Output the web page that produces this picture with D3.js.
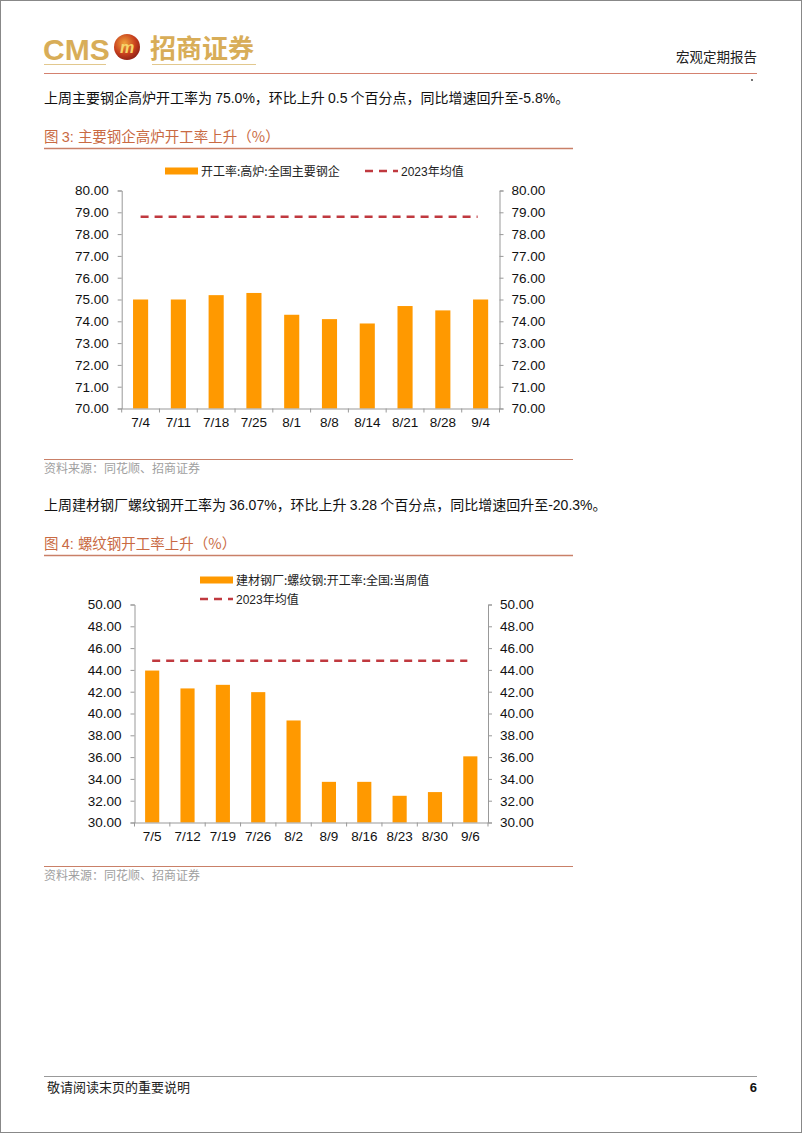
<!DOCTYPE html>
<html lang="zh">
<head>
<meta charset="utf-8">
<title>宏观定期报告</title>
<script src="https://cdn.jsdelivr.net/npm/d3@7"></script>
<style>
  body { margin: 0; background: #fff; }
  text { font-family: "Liberation Sans", Arial, "Noto Sans CJK SC", sans-serif; }
  .cn { font-family: "Noto Sans CJK SC", sans-serif; }
</style>
</head>
<body>
<script>
// chart 3 data
var dates1 = ["7/4", "7/11", "7/18", "7/25", "8/1", "8/8", "8/14", "8/21", "8/28", "9/4"];
var rate1 = [75.0, 75.0, 75.2, 75.3, 74.3, 74.1, 73.9, 74.7, 74.5, 75.0];
var avg1 = 78.8;
var ticks1 = [70, 71, 72, 73, 74, 75, 76, 77, 78, 79, 80];

// chart 4 data
var dates2 = ["7/5", "7/12", "7/19", "7/26", "8/2", "8/9", "8/16", "8/23", "8/30", "9/6"];
var rate2 = [43.94, 42.3, 42.63, 41.96, 39.36, 33.73, 33.73, 32.45, 32.79, 36.07];
var avg2 = 44.83;
var ticks2 = [30, 32, 34, 36, 38, 40, 42, 44, 46, 48, 50];

var W = 802, H = 1133;
var barColor = "#ff9900", avgColor = "#c0393f";

var svg = d3.select("body").append("svg")
    .attr("width", W).attr("height", H);

svg.append("rect").attr("x", 0.5).attr("y", 0.5).attr("width", W - 1).attr("height", H - 1)
    .attr("fill", "#fff").attr("stroke", "#888");

// header
var gold = "#d8ad58";
svg.append("text").attr("x", 43).attr("y", 60).text("CMS")
    .attr("font-size", 30).attr("font-weight", "bold").attr("fill", gold);
var grad = svg.append("defs").append("radialGradient").attr("id", "lg")
    .attr("cx", "40%").attr("cy", "35%").attr("r", "70%");
grad.append("stop").attr("offset", "0%").attr("stop-color", "#f0a23a");
grad.append("stop").attr("offset", "60%").attr("stop-color", "#c8401e");
grad.append("stop").attr("offset", "100%").attr("stop-color", "#8a1e14");
svg.append("circle").attr("cx", 127).attr("cy", 47).attr("r", 13).attr("fill", "url(#lg)");
svg.append("text").attr("x", 127).attr("y", 53).attr("text-anchor", "middle")
    .attr("font-size", 16).attr("font-weight", "bold").attr("font-style", "italic")
    .attr("fill", "#f6d56a").text("m");
svg.append("text").attr("class", "cn").attr("x", 150).attr("y", 58).text("招商证券")
    .attr("font-size", 26).attr("font-weight", "bold").attr("fill", gold);
svg.append("line").attr("x1", 44).attr("x2", 106).attr("y1", 64.5).attr("y2", 64.5)
    .attr("stroke", "#e2c88e").attr("stroke-width", 1.2);
svg.append("line").attr("x1", 152).attr("x2", 256).attr("y1", 64.5).attr("y2", 64.5)
    .attr("stroke", "#e2c88e").attr("stroke-width", 1.2);
svg.append("text").attr("class", "cn").attr("x", 757).attr("y", 62).attr("text-anchor", "end")
    .attr("font-size", 13.5).attr("fill", "#222").text("宏观定期报告");
svg.append("line").attr("x1", 44).attr("x2", 757).attr("y1", 73.5).attr("y2", 73.5)
    .attr("stroke", "#d4816f").attr("stroke-width", 1);
svg.append("circle").attr("cx", 752).attr("cy", 80).attr("r", 0.9).attr("fill", "#333");

function para(y, parts) {
    var t = svg.append("text").attr("x", 44).attr("y", y).attr("font-size", 14).attr("fill", "#111");
    parts.forEach(function(p) {
        t.append("tspan").attr("class", p[1] ? "cn" : null).text(p[0]);
    });
}

function title(y, label, text) {
    var t = svg.append("text").attr("x", 44).attr("y", y).attr("font-size", 14.5).attr("fill", "#c96a43");
    t.append("tspan").attr("class", "cn").text("图 ");
    t.append("tspan").text(label);
    t.append("tspan").attr("class", "cn").text(text);
    svg.append("line").attr("x1", 44).attr("x2", 573).attr("y1", y + 6.5).attr("y2", y + 6.5)
        .attr("stroke", "#c98068").attr("stroke-width", 1.5);
}

function source(y) {
    svg.append("line").attr("x1", 44).attr("x2", 573).attr("y1", y).attr("y2", y)
        .attr("stroke", "#c98068").attr("stroke-width", 1.2);
    svg.append("text").attr("class", "cn").attr("x", 44).attr("y", y + 13)
        .attr("font-size", 12).attr("fill", "#a0a0a0").text("资料来源：同花顺、招商证券");
}

function drawChart(c) {
    var x = d3.scaleBand().domain(c.dates).range([c.x0, c.x1]).padding(0);
    var y = d3.scaleLinear().domain([c.ticks[0], c.ticks[c.ticks.length - 1]]).range([c.y0, c.y1]);
    var g = svg.append("g");
    var fmt = d3.format(".2f");

    var left = g.append("g").attr("transform", "translate(" + c.x0 + ",0)")
        .call(d3.axisLeft(y).tickValues(c.ticks).tickFormat(fmt).tickSize(4).tickPadding(9));
    var right = g.append("g").attr("transform", "translate(" + c.x1 + ",0)")
        .call(d3.axisRight(y).tickValues(c.ticks).tickFormat(fmt).tickSize(4).tickPadding(8));
    [left, right].forEach(function(a) {
        a.select(".domain").attr("stroke", "#999");
        a.selectAll(".tick line").attr("stroke", "#999");
        a.selectAll("text").attr("font-size", 13.5).attr("fill", "#111")
            .attr("font-family", "'Liberation Sans', Arial, sans-serif");
    });

    var bw = x.bandwidth() * 0.4;
    g.selectAll("rect.bar").data(c.values).enter().append("rect")
        .attr("class", "bar")
        .attr("x", function(d, i) { return x(c.dates[i]) + (x.bandwidth() - bw) / 2; })
        .attr("y", function(d) { return y(d); })
        .attr("width", bw)
        .attr("height", function(d) { return y(c.ticks[0]) - y(d); })
        .attr("fill", barColor);

    // x axis with ticks between categories
    var bottom = g.append("g").attr("transform", "translate(0," + c.y0 + ")")
        .call(d3.axisBottom(x).tickSize(0).tickPadding(9));
    bottom.select(".domain").attr("stroke", "#999");
    bottom.selectAll("text").attr("font-size", 13.5).attr("fill", "#111")
        .attr("font-family", "'Liberation Sans', Arial, sans-serif");
    var edges = c.dates.map(function(d) { return x(d); }).concat([c.x1]);
    g.selectAll("line.xt").data(edges).enter().append("line")
        .attr("x1", function(d) { return d; }).attr("x2", function(d) { return d; })
        .attr("y1", c.y0).attr("y2", c.y0 + 4).attr("stroke", "#999");

    var cx0 = x(c.dates[0]) + x.bandwidth() / 2;
    var cx1 = x(c.dates[c.dates.length - 1]) + x.bandwidth() / 2 - 3;
    g.append("line").attr("x1", cx0).attr("x2", cx1).attr("y1", y(c.avg)).attr("y2", y(c.avg))
        .attr("stroke", avgColor).attr("stroke-width", 2.5).attr("stroke-dasharray", "8,6");

    // legend
    c.legend.forEach(function(l) {
        if (l.type === "bar") {
            g.append("rect").attr("x", l.x).attr("y", l.y - 3.5).attr("width", 33).attr("height", 7)
                .attr("fill", barColor);
        } else {
            g.append("line").attr("x1", l.x).attr("x2", l.x + 33).attr("y1", l.y).attr("y2", l.y)
                .attr("stroke", avgColor).attr("stroke-width", 2.5).attr("stroke-dasharray", "8,6");
        }
        var t = g.append("text").attr("x", l.x + 36).attr("y", l.y + 4.5).attr("font-size", 12).attr("fill", "#222");
        l.parts.forEach(function(p) {
            t.append("tspan").attr("class", p[1] ? "cn" : null).text(p[0]);
        });
    });
}

para(103, [["上周主要钢企高炉开工率为 ", 1], ["75.0%"], ["，环比上升 ", 1], ["0.5"], [" 个百分点，同比增速回升至", 1], ["-5.8%"], ["。", 1]]);
title(142, "3: ", "主要钢企高炉开工率上升（%）");
drawChart({
    dates: dates1, values: rate1, avg: avg1, ticks: ticks1,
    x0: 121.7, x1: 499.5, y0: 408.5, y1: 190.5,
    legend: [
        { type: "bar", x: 165, y: 171, parts: [["开工率:高炉:全国主要钢企", 1]] },
        { type: "line", x: 365, y: 171, parts: [["2023"], ["年均值", 1]] }
    ]
});
source(459.5);

para(510, [["上周建材钢厂螺纹钢开工率为 ", 1], ["36.07%"], ["，环比上升 ", 1], ["3.28"], [" 个百分点，同比增速回升至", 1], ["-20.3%"], ["。", 1]]);
title(549, "4: ", "螺纹钢开工率上升（%）");
drawChart({
    dates: dates2, values: rate2, avg: avg2, ticks: ticks2,
    x0: 134.5, x1: 488, y0: 822.5, y1: 604.5,
    legend: [
        { type: "bar", x: 200, y: 580, parts: [["建材钢厂:螺纹钢:开工率:全国:当周值", 1]] },
        { type: "line", x: 200, y: 599, parts: [["2023"], ["年均值", 1]] }
    ]
});
source(866.5);

// footer
svg.append("line").attr("x1", 44).attr("x2", 757).attr("y1", 1076.5).attr("y2", 1076.5)
    .attr("stroke", "#999").attr("stroke-width", 1);
svg.append("text").attr("class", "cn").attr("x", 47).attr("y", 1092).attr("font-size", 13)
    .attr("fill", "#222").text("敬请阅读末页的重要说明");
svg.append("text").attr("x", 757).attr("y", 1092).attr("text-anchor", "end")
    .attr("font-size", 13).attr("font-weight", "bold").attr("fill", "#111").text("6");
</script>
</body>
</html>
